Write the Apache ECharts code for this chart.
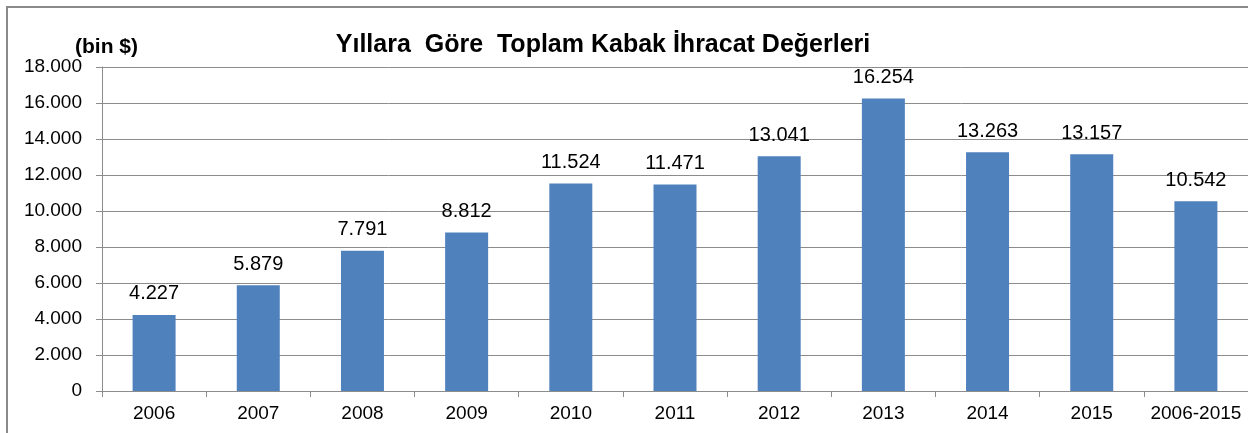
<!DOCTYPE html>
<html>
<head>
<meta charset="utf-8">
<script src="https://cdn.jsdelivr.net/npm/echarts@6/dist/echarts.min.js"></script>
<style>
  html, body { margin: 0; padding: 0; background: #fff; }
  #frame { position: absolute; left: 6px; top: 6px; width: 1248px; height: 433px; border-left: 2px solid #8a8a8a; border-top: 2px solid #8a8a8a; }
  #main { position: absolute; left: 0; top: 0; width: 1248px; height: 433px; }
</style>
</head>
<body>
<div id="frame"></div>
<div id="main"></div>
<script>
  // kategoriler ve değerler (bin $)
  var years = ['2006', '2007', '2008', '2009', '2010', '2011', '2012', '2013', '2014', '2015', '2006-2015'];
  var values = [4227, 5879, 7791, 8812, 11524, 11471, 13041, 16254, 13263, 13157, 10542];

  function fmt(v) {
    return String(v).replace(/\B(?=(\d{3})+(?!\d))/g, '.');
  }

  var chart = echarts.init(document.getElementById('main'));
  var option = {
    animation: false,
    title: {
      text: 'Yıllara  Göre  Toplam Kabak İhracat Değerleri',
      left: 598,
      textAlign: 'center',
      top: 28,
      textStyle: { fontFamily: 'Liberation Sans', fontWeight: 'bold', fontSize: 25, color: '#000' }
    },
    graphic: [{
      type: 'text',
      left: 75,
      top: 37,
      style: { text: '(bin $)', font: 'bold 21px "Liberation Sans"', fill: '#000' }
    }],
    grid: { left: 102, right: 0, top: 67, bottom: 42 },
    xAxis: {
      type: 'category',
      data: years,
      axisLine: { lineStyle: { color: '#8c8c8c', width: 1 } },
      axisTick: { show: true, length: 6, lineStyle: { color: '#8c8c8c' } },
      axisLabel: { interval: 0, hideOverlap: false, color: '#000', fontFamily: 'Liberation Sans', fontSize: 19, margin: 13 }
    },
    yAxis: {
      type: 'value',
      min: 0,
      max: 18000,
      interval: 2000,
      axisLine: { show: true, lineStyle: { color: '#8c8c8c' } },
      axisTick: { show: true, length: 6, lineStyle: { color: '#8c8c8c' } },
      splitLine: { lineStyle: { color: '#8c8c8c' } },
      axisLabel: {
        color: '#000', fontFamily: 'Liberation Sans', fontSize: 19, margin: 20,
        formatter: function (v) { return fmt(v); }
      }
    },
    series: [{
      type: 'bar',
      data: values,
      barWidth: 43,
      itemStyle: { color: '#4f81bd' },
      label: {
        show: true,
        position: 'top',
        distance: 11,
        color: '#000',
        fontFamily: 'Liberation Sans',
        fontSize: 20,
        formatter: function (p) { return fmt(p.value); }
      }
    }]
  };
  chart.setOption(option);
</script>
</body>
</html>
